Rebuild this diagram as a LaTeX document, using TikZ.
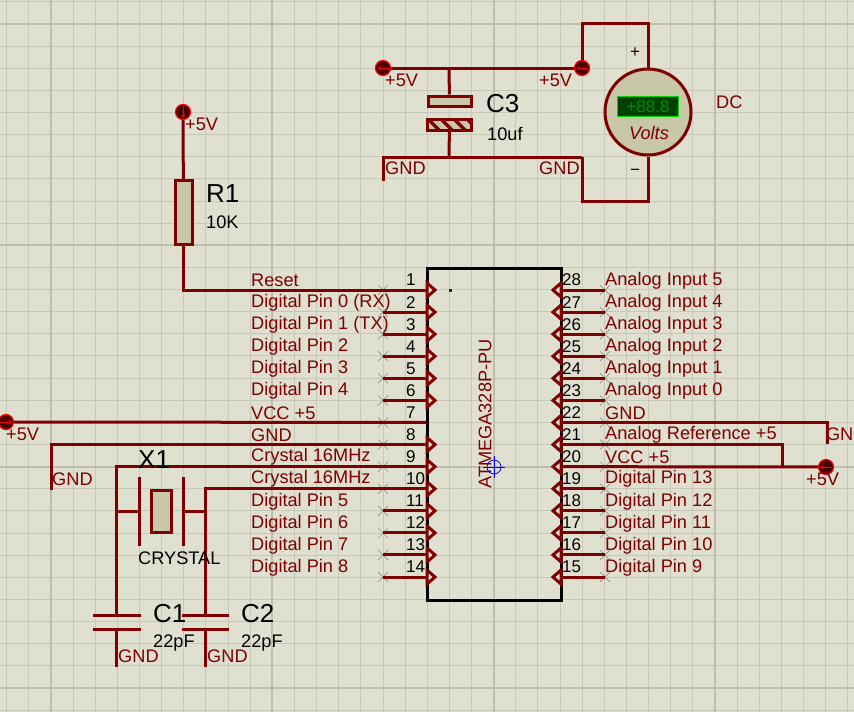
\documentclass[tikz,border=0pt]{standalone}
\usepackage{fontspec}
\setmainfont{Liberation Sans}
\usepackage{xcolor}
\usetikzlibrary{positioning}
\definecolor{PaperTone}{HTML}{E0E0D1}
\definecolor{GridTone}{HTML}{C8C8B8}
\definecolor{MajorTone}{HTML}{BEBEAE}
\definecolor{WireRed}{HTML}{7E0000}
\definecolor{BodyTone}{HTML}{C8C8A9}
\definecolor{TermDark}{HTML}{470000}
\definecolor{LcdDark}{HTML}{004000}
\definecolor{LcdText}{HTML}{008C00}
\definecolor{LcdEdge}{HTML}{00D800}
\newcommand{\pinfont}{\fontsize{18.2}{20}\selectfont}
\newcommand{\numfont}{\fontsize{17}{20}\selectfont}
\newcommand{\namefont}{\fontsize{26}{30}\selectfont}
\tikzset{
  wire/.style={draw=WireRed, line width=3pt},
  part/.style={draw=WireRed, line width=3pt, fill=BodyTone},
  netlabel/.style={text=WireRed, font=\pinfont, inner sep=0pt, anchor=west},
  pinnum/.style={text=black, font=\numfont, inner sep=0pt},
  partname/.style={text=black, font=\namefont, inner sep=0pt, anchor=west},
  partvalue/.style={text=black, font=\pinfont, inner sep=0pt, anchor=west},
  terminal/.style={circle, draw=red, line width=1.2pt, fill=TermDark, minimum size=15pt, inner sep=0pt},
  termarrow/.style={draw=red, line width=0.8pt, -stealth},
  pintip/.style={draw=WireRed, line width=3pt, fill=PaperTone, line join=miter},
  nocon/.style={draw=gray, line width=0.5pt}
}
\begin{document}
\begin{tikzpicture}[x=1pt, y=-1pt]
  \useasboundingbox (0,0) rectangle (854,712);
  \fill[PaperTone] (0,0) rectangle (854,712);
  % Sheet grid
  \foreach \k in {0,...,38} \draw[GridTone, line width=1pt] ({6.8+22.13*\k},0) -- ({6.8+22.13*\k},712);
  \foreach \k in {0,...,32} \draw[GridTone, line width=1pt] (0,{1.9+22.13*\k}) -- (854,{1.9+22.13*\k});
  \foreach \k in {51,272,494,715} \draw[MajorTone, line width=1.8pt] (\k,0) -- (\k,712);
  \foreach \k in {24,245,467,688} \draw[MajorTone, line width=1.8pt] (0,\k) -- (854,\k);

  % Chip body
  \node[draw=black, line width=3pt, minimum width=134pt, minimum height=332pt, inner sep=0pt] (chip) at (494,434) {};
  \node[text=WireRed, font=\pinfont, rotate=90, inner sep=0pt] (chipname) at (485,414) {ATMEGA328P-PU};
  \fill[LcdDark] (448.5,288.5) rectangle (451.5,291.5);
  \node[circle, draw=blue, line width=0.8pt, minimum size=14pt, inner sep=0pt] (origin) at (494,467) {};
  \draw[blue, line width=0.8pt] (483,467) -- (505,467) (494,456) -- (494,478);

  % Left pins
  \foreach \i/\txt in {1/Reset, 2/Digital Pin 0 (RX), 3/Digital Pin 1 (TX), 4/Digital Pin 2, 5/Digital Pin 3, 6/Digital Pin 4, 7/VCC +5, 8/GND, 9/Crystal 16MHz, 10/Crystal 16MHz, 11/Digital Pin 5, 12/Digital Pin 6, 13/Digital Pin 7, 14/Digital Pin 8} {
    \pgfmathsetmacro{\py}{290+22.08*(\i-1)}
    \coordinate (L\i) at (383,\py);
    \coordinate (CL\i) at (427,\py);
    \draw[nocon] (378,\py-5) -- (388,\py+5) (378,\py+5) -- (388,\py-5);
    \draw[wire] (L\i) -- (CL\i);
    \ifnum\i=7\else \draw[pintip] (427,\py-7) -- (435,\py) -- (427,\py+7) -- cycle; \fi
    \node[netlabel] (labL\i) at (251,\py-9.5) {\txt};
    \node[pinnum, anchor=west] (numL\i) at (406,\py-10) {\i};
  }
  % Right pins
  \foreach \i/\txt in {28/Analog Input 5, 27/Analog Input 4, 26/Analog Input 3, 25/Analog Input 2, 24/Analog Input 1, 23/Analog Input 0, 22/GND, 21/Analog Reference +5, 20/VCC +5, 19/Digital Pin 13, 18/Digital Pin 12, 17/Digital Pin 11, 16/Digital Pin 10, 15/Digital Pin 9} {
    \pgfmathsetmacro{\py}{290+22.08*(28-\i)}
    \coordinate (R\i) at (605,\py);
    \coordinate (CR\i) at (561,\py);
    \draw[nocon] (600,\py-5) -- (610,\py+5) (600,\py+5) -- (610,\py-5);
    \draw[wire] (CR\i) -- (R\i);
    \draw[pintip] (561,\py-7) -- (553,\py) -- (561,\py+7) -- cycle;
    \node[netlabel] (labR\i) at (605,\py-9.5) {\txt};
    \node[pinnum, anchor=west] (numR\i) at (562,\py-10) {\i};
  }

  % Reset pull-up
  \node[terminal] (tReset) at (183,112) {};
  \node[part, minimum width=17pt, minimum height=64pt, inner sep=0pt] (R1) at (183.5,212.5) {};
  \draw[wire] (tReset) -- (R1);
  \draw[wire] (R1) |- (CL1);
  \draw[termarrow] (183,106) -- (183,118);
  \node[netlabel] (vReset) at (185,124) {+5V};
  \node[partname] (R1name) at (206,194) {R1};
  \node[partvalue] (R1val) at (206,222) {10K};

  % Supply and meter
  \node[terminal] (tSupA) at (383,68) {};
  \node[terminal] (tSupB) at (582,68) {};
  \coordinate (c3top) at (449,68);
  \coordinate (c3bot) at (449,157);
  \coordinate (gndA) at (383,181);
  \coordinate (gndB) at (582,157);
  \node[part, minimum width=43pt, minimum height=10pt, inner sep=0pt] (C3a) at (449.5,101) {};
  \node[minimum width=43pt, minimum height=10pt, inner sep=0pt] (C3b) at (449.5,125) {};
  \draw[wire] (tSupA) -- (tSupB);
  \draw[wire] (c3top) -- (C3a);
  \draw[wire] (C3b) -- (c3bot);
  \draw[wire] (gndA) |- (gndB);
  \fill[BodyTone] (C3b.south west) rectangle (C3b.north east);
  \begin{scope}
    \clip (C3b.south west) rectangle (C3b.north east);
    \foreach \k in {428,441,454,467} \draw[WireRed, line width=3.5pt] (\k,119) -- (\k+12,131);
  \end{scope}
  \draw[wire] (C3b.south west) rectangle (C3b.north east);
  \node[circle, part, minimum size=86pt, inner sep=0pt] (meter) at (648,112) {};
  \coordinate (mTop) at (648,23);
  \coordinate (mBot) at (648,201);
  \draw[wire] (tSupB) -- (582,23) -- (mTop) -- (meter);
  \draw[wire] (gndB) -- (582,201) -- (mBot) -- (meter);
  \draw[termarrow] (389,68) -- (377,68);
  \draw[termarrow] (588,68) -- (576,68);
  \node[draw=LcdEdge, fill=LcdDark, line width=1pt, minimum width=61pt, minimum height=20pt, inner sep=0pt, text=LcdText, font=\numfont] (lcd) at (648,106.5) {+88.8};
  \node[text=WireRed, font=\pinfont\itshape, inner sep=0pt] (volts) at (649,133) {Volts};
  \node[pinnum, text=black!70!WireRed] (plus) at (635,53) {+};
  \node[pinnum, text=black!70!WireRed] (minus) at (635,172) {−};
  \node[netlabel] (dc) at (716,102) {DC};
  \node[netlabel] (vSupA) at (385,80) {+5V};
  \node[netlabel] (vSupB) at (539,80) {+5V};
  \node[netlabel] (gSupA) at (385,168) {GND};
  \node[netlabel] (gSupB) at (539,168) {GND};
  \node[partname] (C3name) at (486,104) {C3};
  \node[partvalue] (C3val) at (487,134) {10uf};

  % Left rails
  \node[terminal] (tLeft) at (6,422) {};
  \draw[wire] (tLeft) -- (CL7);
  \draw[termarrow] (0,422) -- (12,422);
  \node[netlabel] (vLeft) at (6,434) {+5V};
  \coordinate (gndL) at (51,490);
  \draw[wire] (gndL) |- (CL8);
  \node[netlabel] (gLeft) at (52,479) {GND};

  % Crystal and load capacitors
  \node[part, minimum width=20pt, minimum height=42pt, inner sep=0pt] (X1) at (161.5,511.5) {};
  \coordinate (xPlateL) at (139,511);
  \coordinate (xPlateR) at (183,511);
  \draw[wire] (139,477) -- (139,546) (183,477) -- (183,546);
  \coordinate (c1top) at (116,615);
  \coordinate (c1bot) at (116,629);
  \coordinate (c1end) at (116,667);
  \coordinate (c2top) at (205,615);
  \coordinate (c2bot) at (205,629);
  \coordinate (c2end) at (205,667);
  \draw[wire] (CL9) -| (c1top);
  \draw[wire] (CL10) -| (c2top);
  \draw[wire] (116,511) -- (xPlateL);
  \draw[wire] (xPlateR) -- (205,511);
  \draw[wire] (93,615) -- (141,615) (93,629) -- (141,629);
  \draw[wire] (182,615) -- (229,615) (182,629) -- (229,629);
  \draw[wire] (c1bot) -- (c1end);
  \draw[wire] (c2bot) -- (c2end);
  \node[partname] (X1name) at (138,460) {X1};
  \node[partvalue] (X1val) at (138,558) {CRYSTAL};
  \node[partname] (C1name) at (153,614) {C1};
  \node[partname] (C2name) at (241,614) {C2};
  \node[partvalue] (C1val) at (153,643) {22pF};
  \node[partvalue] (C2val) at (241,643) {22pF};
  \node[netlabel] (gC1) at (118,656) {GND};
  \node[netlabel] (gC2) at (207,656) {GND};

  % Right rails
  \node[terminal] (tRight) at (826,467) {};
  \coordinate (gndR) at (827,444);
  \coordinate (tie) at (782,467);
  \draw[wire] (CR22) -| (gndR);
  \draw[wire] (CR21) -| (tie);
  \draw[wire] (CR20) -- (tRight);
  \draw[termarrow] (832,467) -- (820,467);
  \node[netlabel, anchor=east] (gRight) at (853.5,434) {GN};
  \node[netlabel] (vRight) at (806,479) {+5V};
\end{tikzpicture}
\end{document}
